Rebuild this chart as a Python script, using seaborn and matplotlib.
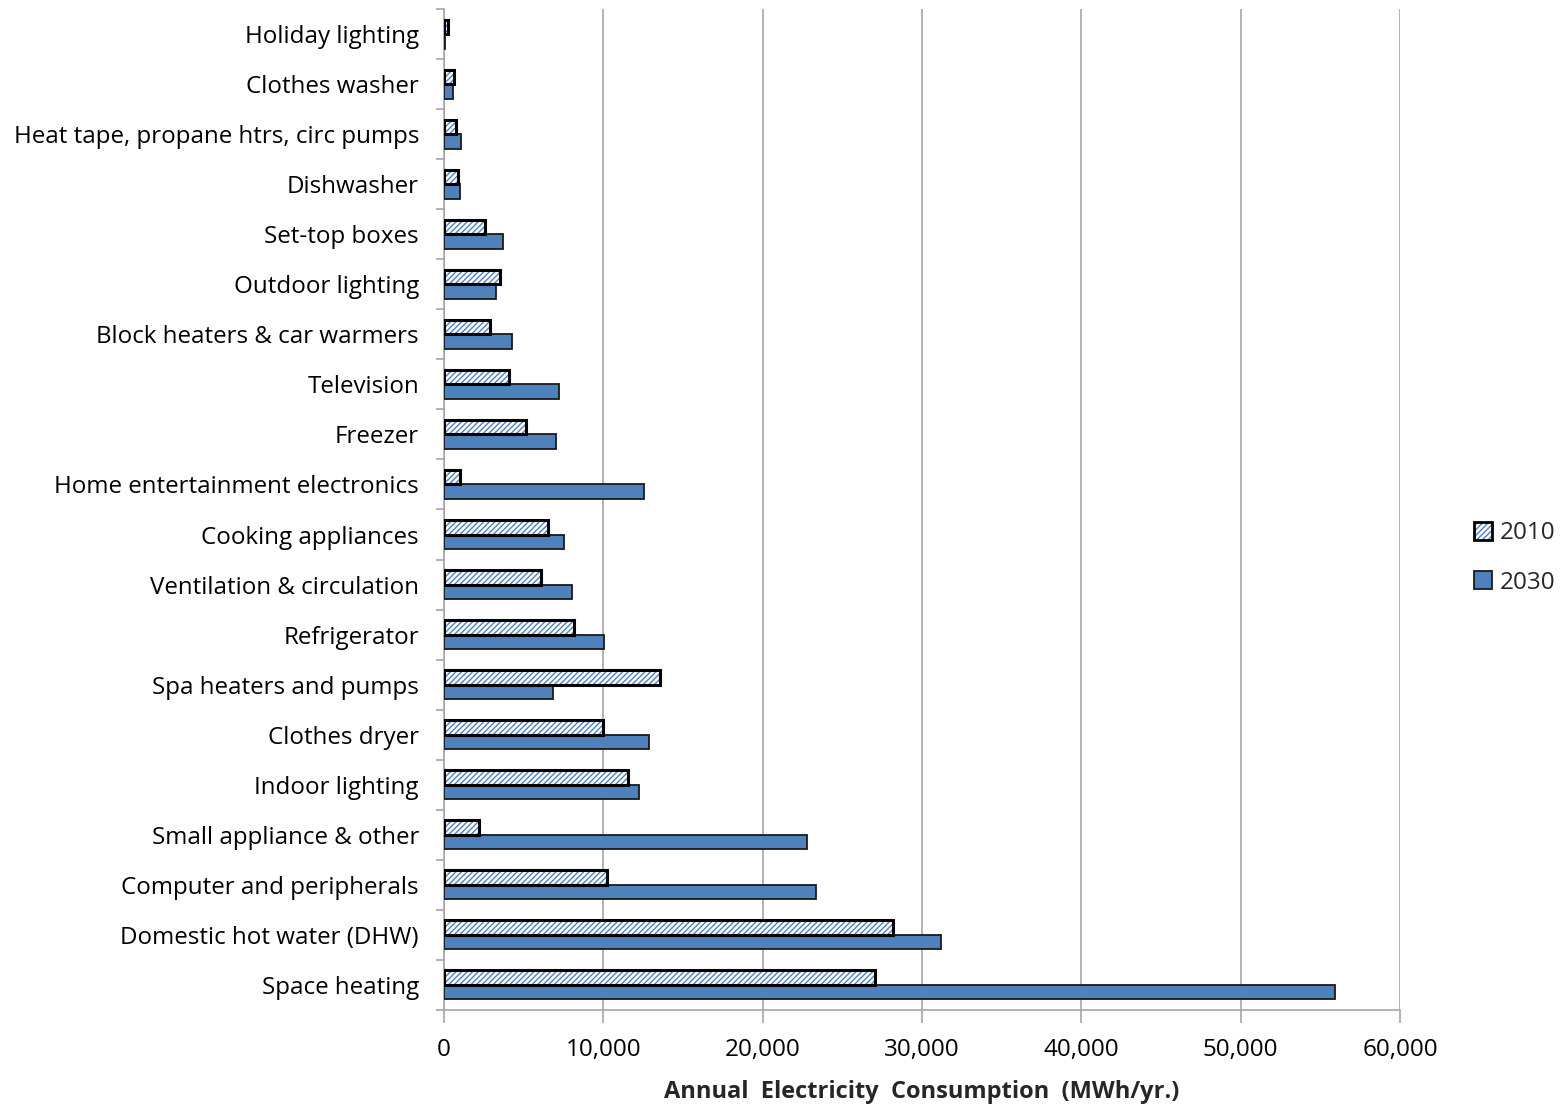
import matplotlib
matplotlib.use("Agg")
import matplotlib.pyplot as plt
from matplotlib.patches import Patch, Rectangle
from matplotlib.legend_handler import HandlerTuple
from matplotlib.ticker import FixedLocator, FuncFormatter
import numpy as np
import pandas as pd
import seaborn as sns

categories = [
    "Holiday lighting",
    "Clothes washer",
    "Heat tape, propane htrs, circ pumps",
    "Dishwasher",
    "Set-top boxes",
    "Outdoor lighting",
    "Block heaters & car warmers",
    "Television",
    "Freezer",
    "Home entertainment electronics",
    "Cooking appliances",
    "Ventilation & circulation",
    "Refrigerator",
    "Spa heaters and pumps",
    "Clothes dryer",
    "Indoor lighting",
    "Small appliance & other",
    "Computer and peripherals",
    "Domestic hot water (DHW)",
    "Space heating",
]
values_2010 = [250, 650, 730, 900, 2550, 3530, 2910, 4080, 5150, 1020,
               6550, 6110, 8140, 13560, 9960, 11570, 2200, 10250, 28200, 27030]
values_2030 = [80, 545, 1050, 985, 3680, 3265, 4245, 7240, 7050, 12550,
               7530, 8035, 10040, 6820, 12845, 12220, 22760, 23325, 31190, 55900]
years = ["2010", "2030"]
x_ticks = [0, 10000, 20000, 30000, 40000, 50000, 60000]

BLUE = "#4F81BD"
GRID = "#A6A6A6"

df = pd.DataFrame({
    "category": categories * 2,
    "year": [years[0]] * len(categories) + [years[1]] * len(categories),
    "value": values_2010 + values_2030,
})

sns.set_theme(style="white")
plt.rcParams["font.family"] = ["Open Sans", "DejaVu Sans"]
plt.rcParams["hatch.linewidth"] = 1.0

fig = plt.figure(figsize=(15.64, 11.06), dpi=100)
ax = fig.add_axes([444 / 1564, 1 - 1010 / 1106, 956 / 1564, 1001 / 1106])

sns.barplot(data=df, y="category", x="value", hue="year", order=categories,
            hue_order=years, palette=[BLUE, BLUE], orient="h", width=0.58,
            gap=0, legend=False, ax=ax)

n = len(categories)
bars_2010 = ax.patches[:n]
bars_2030 = ax.patches[n:2 * n]

for p in bars_2030:
    p.set_facecolor(BLUE)
    p.set_edgecolor("#1a1a1a")
    p.set_linewidth(1.3)
    p.set_zorder(3)

for p in bars_2010:
    p.set_facecolor("white")
    p.set_edgecolor(BLUE)
    p.set_hatch("//////")
    p.set_linewidth(0)
    p.set_zorder(3)
    outline = Rectangle((p.get_x(), p.get_y()), p.get_width(), p.get_height(),
                        fill=False, edgecolor="black", linewidth=2.2, zorder=4)
    ax.add_patch(outline)

ax.set_xlim(0, 60000)
ax.set_ylim(n - 0.5, -0.5)
ax.xaxis.set_major_locator(FixedLocator(x_ticks))
ax.xaxis.set_major_formatter(FuncFormatter(lambda v, _: f"{int(v):,}"))
ax.grid(axis="x", color=GRID, linewidth=1.2, zorder=0)
ax.set_axisbelow(True)

for side in ["top", "right"]:
    ax.spines[side].set_visible(False)
for side in ["left", "bottom"]:
    ax.spines[side].set_color(GRID)
    ax.spines[side].set_linewidth(1.2)

ax.tick_params(axis="x", which="major", length=9, width=1.2, color=GRID,
               labelsize=17.5, pad=11, bottom=True, labelcolor="black")
ax.tick_params(axis="y", which="major", length=0, labelsize=17.4, pad=18,
               labelcolor="black")
ax.yaxis.set_minor_locator(FixedLocator(np.arange(-0.5, n, 1.0)))
ax.tick_params(axis="y", which="minor", length=6, width=1.2, color=GRID, left=True)

ax.set_ylabel("")
ax.set_xlabel("Annual  Electricity  Consumption  (MWh/yr.)", fontsize=17,
              fontweight="bold", labelpad=13)

h2010 = (Patch(facecolor="white", edgecolor=BLUE, hatch="//////", linewidth=0),
         Patch(facecolor="none", edgecolor="black", linewidth=2.0))
h2030 = Patch(facecolor=BLUE, edgecolor="#1a1a1a", linewidth=1.3)
fig.legend([h2010, h2030], years, handler_map={tuple: HandlerTuple(ndivide=1, pad=0)},
           loc="center left", bbox_to_anchor=(1474 / 1564, 1 - 558 / 1106),
           frameon=False, fontsize=17.5, handlelength=0.75, handleheight=0.75,
           handletextpad=0.3, labelspacing=1.05, borderpad=0, borderaxespad=0)

fig.savefig("out.png", dpi=100)
